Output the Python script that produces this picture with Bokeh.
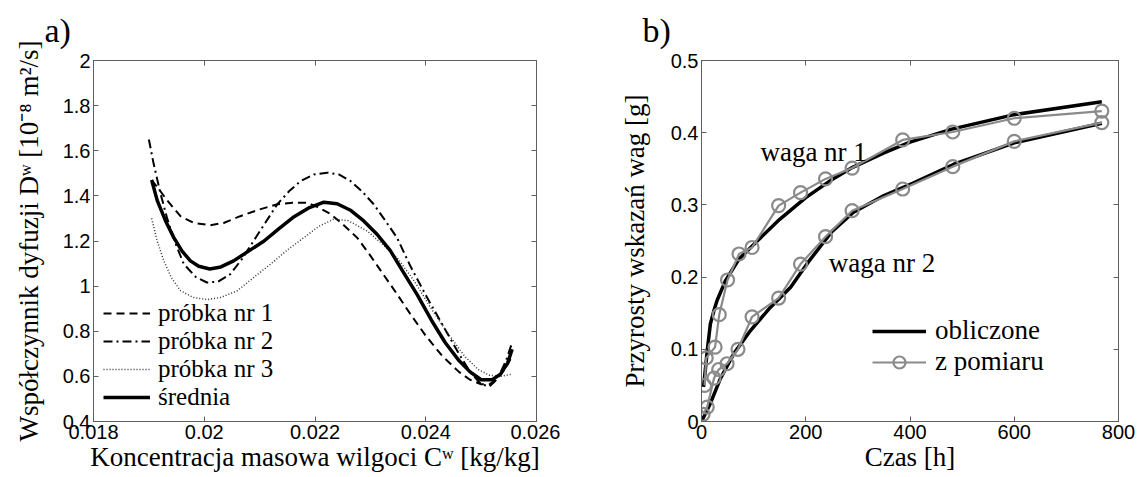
from bokeh.plotting import figure
from bokeh.layouts import row
from bokeh.models import FixedTicker, LinearAxis, Legend, LegendItem, Label
from bokeh.embed import file_html
from bokeh.resources import INLINE

# ---------------- panel a) data ----------------
c_p1 = [0.01905, 0.01918, 0.01933, 0.01957, 0.01981, 0.02011, 0.02035, 0.02065, 0.02100, 0.02132,
        0.02160, 0.02186, 0.02205, 0.02228, 0.02252, 0.02276, 0.02300, 0.02324, 0.02348, 0.02372,
        0.02400, 0.02430, 0.02460, 0.02480, 0.02500, 0.02515, 0.02530, 0.02545, 0.02556]
D_p1 = [1.47, 1.43, 1.38, 1.31, 1.28, 1.27, 1.28, 1.31, 1.34, 1.363,
        1.37, 1.37, 1.35, 1.32, 1.27, 1.215, 1.135, 1.05, 0.965, 0.877,
        0.78, 0.69, 0.62, 0.585, 0.565, 0.565, 0.59, 0.64, 0.69]

c_p2 = [0.01900, 0.01908, 0.01920, 0.01933, 0.01948, 0.01963, 0.01985, 0.02005, 0.02025, 0.02047,
        0.02068, 0.02089, 0.02110, 0.02132, 0.02153, 0.02174, 0.02198, 0.02222, 0.02243, 0.02264,
        0.02285, 0.02306, 0.02327, 0.02348, 0.02372, 0.02400, 0.02430, 0.02460, 0.02480, 0.02500,
        0.02515, 0.02530, 0.02545, 0.02556]
D_p2 = [1.65, 1.55, 1.42, 1.30, 1.19, 1.098, 1.04, 1.016, 1.02, 1.053,
        1.12, 1.20, 1.28, 1.363, 1.42, 1.466, 1.495, 1.503, 1.495, 1.466,
        1.42, 1.363, 1.29, 1.215, 1.09, 0.96, 0.83, 0.70, 0.62, 0.565,
        0.555, 0.59, 0.67, 0.75]

c_p3 = [0.01905, 0.01915, 0.01927, 0.01940, 0.01957, 0.01980, 0.02005, 0.02030, 0.02060, 0.02090,
        0.02120, 0.02150, 0.02180, 0.02207, 0.02234, 0.02260, 0.02294, 0.02320, 0.02348, 0.02380,
        0.02410, 0.02440, 0.02470, 0.02495, 0.02515, 0.02535, 0.02556]
D_p3 = [1.30, 1.20, 1.112, 1.04, 0.98, 0.95, 0.94, 0.95, 0.98, 1.04,
        1.098, 1.16, 1.215, 1.265, 1.297, 1.29, 1.245, 1.19, 1.127, 1.02,
        0.90, 0.79, 0.69, 0.63, 0.605, 0.60, 0.61]

c_mean = [0.01905, 0.01915, 0.01930, 0.01945, 0.01960, 0.01975, 0.01990, 0.02010, 0.02030, 0.02053,
          0.02080, 0.02108, 0.02135, 0.02160, 0.02190, 0.02216, 0.02240, 0.02265, 0.02288, 0.02312,
          0.02336, 0.02360, 0.02385, 0.02410, 0.02435, 0.02460, 0.02480, 0.02500, 0.02520, 0.02535,
          0.02548, 0.02556]
D_mean = [1.47, 1.38, 1.29, 1.215, 1.155, 1.112, 1.088, 1.076, 1.085, 1.112,
          1.155, 1.20, 1.255, 1.304, 1.348, 1.372, 1.365, 1.335, 1.289, 1.23,
          1.157, 1.06, 0.96, 0.85, 0.75, 0.67, 0.62, 0.585, 0.585, 0.61,
          0.66, 0.72]

xticks_a = [0.018, 0.020, 0.022, 0.024, 0.026]
xtick_labels_a = ["0.018", "0.02", "0.022", "0.024", "0.026"]
yticks_a = [0.4, 0.6, 0.8, 1.0, 1.2, 1.4, 1.6, 1.8, 2.0]
ytick_labels_a = ["0.4", "0.6", "0.8", "1", "1.2", "1.4", "1.6", "1.8", "2"]

# ---------------- panel b) data ----------------
t_meas1 = [6, 9, 26, 34, 50, 72, 97, 148, 190, 238, 289, 386, 482, 600, 768]
v_meas1 = [0.050, 0.088, 0.103, 0.148, 0.196, 0.232, 0.241, 0.299, 0.317, 0.336, 0.351, 0.390, 0.401, 0.420, 0.430]
t_meas2 = [3, 11, 24, 33, 49, 70, 97, 148, 190, 238, 289, 386, 482, 600, 768]
v_meas2 = [0.010, 0.020, 0.060, 0.072, 0.080, 0.100, 0.145, 0.171, 0.218, 0.256, 0.292, 0.322, 0.353, 0.388, 0.414]

t_calc1 = [4, 11, 17, 24, 30, 46, 72, 107, 150, 200, 250, 290, 350, 400, 480, 600, 768]
v_calc1 = [0.048, 0.098, 0.135, 0.154, 0.168, 0.195, 0.225, 0.250, 0.280, 0.310, 0.335, 0.352, 0.372, 0.387, 0.405, 0.425, 0.443]
t_calc2 = [0, 17, 36, 62, 94, 132, 171, 205, 250, 290, 350, 405, 483, 600, 768]
v_calc2 = [0.0, 0.025, 0.059, 0.094, 0.126, 0.158, 0.186, 0.221, 0.263, 0.289, 0.313, 0.330, 0.356, 0.386, 0.413]

xticks_b = [0, 200, 400, 600, 800]
xtick_labels_b = ["0", "200", "400", "600", "800"]
yticks_b = [0.0, 0.1, 0.2, 0.3, 0.4, 0.5]
ytick_labels_b = ["0", "0.1", "0.2", "0.3", "0.4", "0.5"]

SERIF = "Liberation Serif"
SANS = "Liberation Sans"
AX = "#5f5f5f"
GRAY = "#8a8a8a"


def style_axis(ax, ticks, labels, label_standoff):
    ax.ticker = FixedTicker(ticks=ticks)
    ax.major_label_overrides = {t: l for t, l in zip(ticks, labels)}
    ax.major_label_text_font = SANS
    ax.major_label_text_font_size = "20px"
    ax.major_label_text_color = "black"
    ax.major_label_standoff = 3
    ax.axis_label_text_font = SERIF
    ax.axis_label_text_font_size = "27px"
    ax.axis_label_text_font_style = "normal"
    ax.axis_label_text_color = "black"
    ax.axis_label_standoff = label_standoff
    ax.axis_line_color = AX
    ax.major_tick_line_color = AX
    ax.major_tick_in = 5
    ax.major_tick_out = 0
    ax.minor_tick_line_color = None


def mirror_axis(p, ticks, side):
    ax = LinearAxis(ticker=FixedTicker(ticks=ticks))
    ax.major_label_overrides = {t: "" for t in ticks}
    ax.major_label_text_font_size = "0px"
    ax.major_label_standoff = 0
    ax.axis_line_color = AX
    ax.major_tick_line_color = AX
    ax.major_tick_in = 5
    ax.major_tick_out = 0
    ax.minor_tick_line_color = None
    p.add_layout(ax, side)


def make_fig(width, xr, yr, mb_left, mb_right, title, title_offset):
    p = figure(width=width, height=477, x_range=xr, y_range=yr,
               output_backend="svg", toolbar_location=None,
               min_border_left=mb_left, min_border_right=mb_right,
               min_border_top=60, min_border_bottom=56)
    p.xgrid.visible = False
    p.ygrid.visible = False
    p.outline_line_color = AX
    p.outline_line_width = 1
    p.background_fill_color = "white"
    p.border_fill_color = "white"
    p.title.text = title
    p.title.text_font = SERIF
    p.title.text_font_size = "34px"
    p.title.text_font_style = "normal"
    p.title.text_color = "black"
    p.title.align = "left"
    p.title.vertical_align = "top"
    p.title.offset = title_offset
    p.title.standoff = 19
    return p


# ---------------- panel a ----------------
pa = make_fig(560, (0.018, 0.026), (0.4, 2.0), 93, 24, "a)", -49)
style_axis(pa.xaxis[0], xticks_a, xtick_labels_a, 0)
style_axis(pa.yaxis[0], yticks_a, ytick_labels_a, 16)
pa.xaxis[0].axis_label = "Koncentracja masowa wilgoci Cʷ [kg/kg]"
pa.yaxis[0].axis_label = "Współczynnik dyfuzji Dʷ [10⁻⁸ m²/s]"
mirror_axis(pa, xticks_a, "above")
mirror_axis(pa, yticks_a, "right")

ra1 = pa.line(c_p1, D_p1, line_color="black", line_width=2, line_dash="8 5")
ra2 = pa.line(c_p2, D_p2, line_color="black", line_width=2, line_dash="9 4 2 4")
ra3 = pa.line(c_p3, D_p3, line_color="#333333", line_width=1.5, line_dash="1 2")
ram = pa.line(c_mean, D_mean, line_color="black", line_width=3.5)

leg_a = Legend(items=[LegendItem(label="próbka nr 1", renderers=[ra1]),
                      LegendItem(label="próbka nr 2", renderers=[ra2]),
                      LegendItem(label="próbka nr 3", renderers=[ra3]),
                      LegendItem(label="średnia", renderers=[ram])],
               location="bottom_left", margin=10, padding=0, spacing=0,
               glyph_width=47, glyph_height=20, label_height=20, label_standoff=8,
               label_text_font=SERIF, label_text_font_size="25px", label_text_color="black",
               border_line_color=None, background_fill_alpha=0)
pa.add_layout(leg_a, "center")

# ---------------- panel b ----------------
pb = make_fig(577, (0, 800), (0, 0.5), 141, 19, "b)", -59)
style_axis(pb.xaxis[0], xticks_b, xtick_labels_b, 0)
style_axis(pb.yaxis[0], yticks_b, ytick_labels_b, 18)
pb.xaxis[0].axis_label = "Czas [h]"
pb.yaxis[0].axis_label = "Przyrosty wskazań wag [g]"
mirror_axis(pb, xticks_b, "above")
mirror_axis(pb, yticks_b, "right")

rb1 = pb.line(t_calc1, v_calc1, line_color="black", line_width=3.5)
rb2 = pb.line(t_calc2, v_calc2, line_color="black", line_width=3.5)
gl1 = pb.line(t_meas1, v_meas1, line_color=GRAY, line_width=2.2)
gs1 = pb.scatter(t_meas1, v_meas1, marker="circle", size=13, fill_color=None,
                 line_color=GRAY, line_width=2.2)
gl2 = pb.line(t_meas2, v_meas2, line_color=GRAY, line_width=2.2)
gs2 = pb.scatter(t_meas2, v_meas2, marker="circle", size=13, fill_color=None,
                 line_color=GRAY, line_width=2.2)

pb.add_layout(Label(x=113, y=0.3726, text="waga nr 1", text_font=SERIF, text_font_size="27px",
                    text_baseline="alphabetic", text_color="black"))
pb.add_layout(Label(x=244, y=0.219, text="waga nr 2", text_font=SERIF, text_font_size="27px",
                    text_baseline="alphabetic", text_color="black"))

leg_b = Legend(items=[LegendItem(label="obliczone", renderers=[rb1]),
                      LegendItem(label="z pomiaru", renderers=[gl1, gs1])],
               location=(171, 44), margin=0, padding=0, spacing=0,
               glyph_width=54, glyph_height=30, label_height=30, label_standoff=9,
               label_text_font=SERIF, label_text_font_size="27px", label_text_color="black",
               border_line_color=None, background_fill_alpha=0)
pb.add_layout(leg_b, "center")

layout = row(pa, pb)
open("out.html", "w").write(file_html(layout, INLINE))
